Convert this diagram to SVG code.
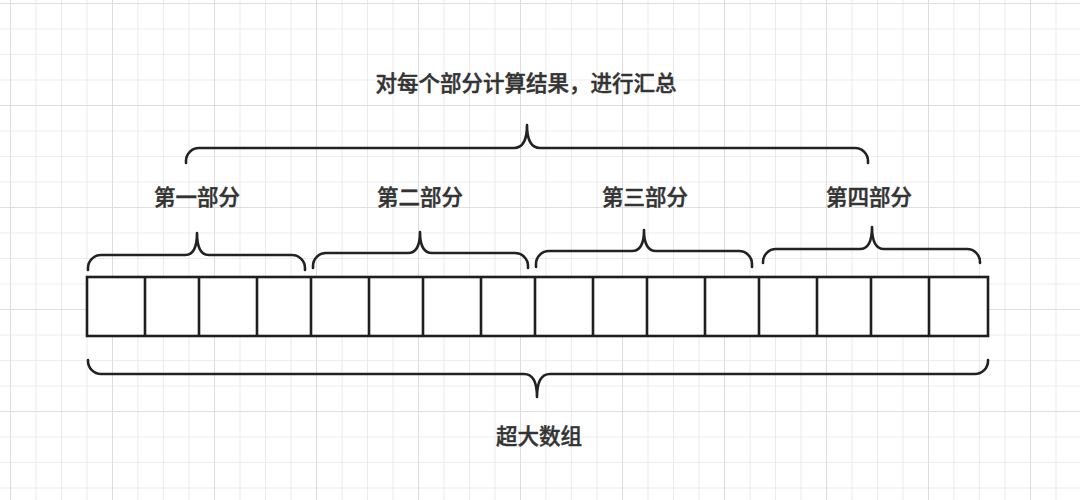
<svg xmlns="http://www.w3.org/2000/svg" width="1080" height="500" viewBox="0 0 1080 500">
<defs>
<pattern id="minor" x="10" y="3" width="25.5" height="25.5" patternUnits="userSpaceOnUse">
<path d="M0 0H25.5M0 0V25.5" fill="none" stroke="#e7e7e7" stroke-width="1.6"/>
</pattern>
<pattern id="major" x="10" y="3" width="102" height="102" patternUnits="userSpaceOnUse">
<path d="M0 0H102M0 0V102" fill="none" stroke="#dadada" stroke-width="1.6"/>
</pattern>
</defs>
<style>
.lbl{font-family:"Noto Sans CJK SC","Noto Sans",sans-serif;font-size:21.5px;font-weight:500;fill:#333;stroke:#333;stroke-width:0.45;text-anchor:middle}
.brace{fill:none;stroke:#222;stroke-width:2.6;stroke-linecap:round;stroke-linejoin:round}
.cell{fill:#fff;stroke:#1e1e1e;stroke-width:2.6}
</style>
<rect width="1080" height="500" fill="#fff"/>
<rect width="1080" height="500" fill="url(#minor)"/>
<rect width="1080" height="500" fill="url(#major)"/>

<g id="array">
<rect class="cell" x="87" y="277" width="901" height="59"/>
<path d="M145 277V336M199 277V336M257 277V336M311 277V336M369 277V336M423 277V336M481 277V336M535 277V336M593 277V336M647 277V336M705 277V336M759 277V336M817 277V336M871 277V336M929 277V336" stroke="#1e1e1e" stroke-width="2.6" fill="none"/>
</g>

<g id="connectors">
<path id="brace-top" class="brace" d="M186 163V161A13 13 0 0 1 199 148H514Q527 148 527 125Q527 148 540 148H855A13 13 0 0 1 868 161V163"/>
<path id="brace-1" class="brace" d="M88 270V268A13 13 0 0 1 101 255H185Q197 255 197 233Q197 255 209 255H292A13 13 0 0 1 305 268V270"/>
<path id="brace-2" class="brace" d="M313 268V266A13 13 0 0 1 326 253H408Q420 253 420 232Q420 253 432 253H515A13 13 0 0 1 528 266V268"/>
<path id="brace-3" class="brace" d="M536 267V264A13 13 0 0 1 549 251H632Q644 251 644 230Q644 251 656 251H739A13 13 0 0 1 752 264V267"/>
<path id="brace-4" class="brace" d="M763 263V262A13 13 0 0 1 776 249H860Q872 249 872 227Q872 249 884 249H967A13 13 0 0 1 980 262V263"/>
<path id="brace-bottom" class="brace" d="M88 360V361A13 13 0 0 0 101 374H524Q537 374 537 397Q537 374 550 374H975A13 13 0 0 0 988 361V360"/>
</g>

<g id="label-top"><text class="lbl" x="526" y="91">对每个部分计算结果，进行汇总</text></g>
<g id="label-1"><text class="lbl" x="197" y="205">第一部分</text></g>
<g id="label-2"><text class="lbl" x="420" y="205">第二部分</text></g>
<g id="label-3"><text class="lbl" x="645" y="205">第三部分</text></g>
<g id="label-4"><text class="lbl" x="869" y="205">第四部分</text></g>
<g id="label-bottom"><text class="lbl" x="539" y="444">超大数组</text></g>
</svg>
